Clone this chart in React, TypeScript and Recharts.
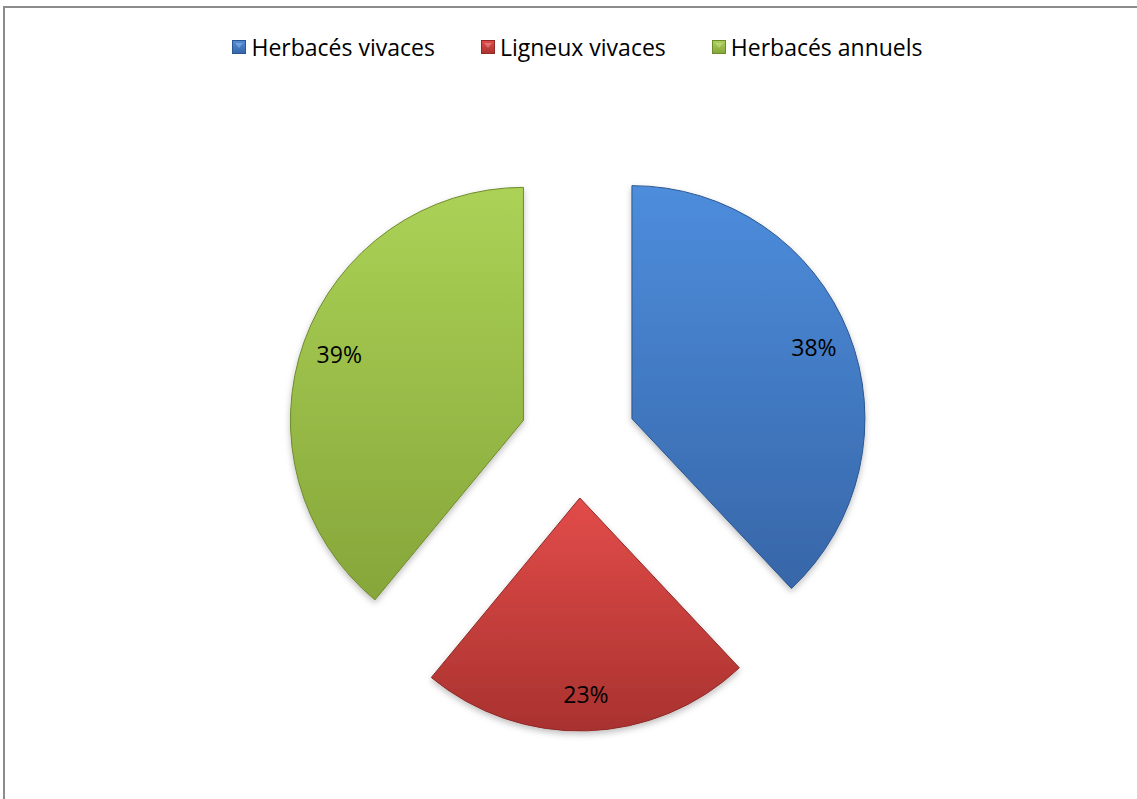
import { PieChart, Pie, Cell, Sector, Legend } from "recharts";

document.body.style.margin = "0";

const categories = ["Herbacés vivaces", "Ligneux vivaces", "Herbacés annuels"];
const shares = [38, 23, 39];

// top / bottom of the vertical gradient, and the edge colour
const gradTop = ["#4d8ddc", "#e24c49", "#abd256"];
const gradBottom = ["#3766a8", "#a9322f", "#86a63a"];
const edgeColors = ["#2c5690", "#8e2a28", "#6f8a2e"];

const data = categories.map((name, i) => ({ name, value: shares[i] }));

const RAD = Math.PI / 180;
const EXPLODE = 58;
const FONT = "'Open Sans', sans-serif";

function shift(midAngle: number, dist: number) {
  return {
    dx: dist * Math.cos(-midAngle * RAD),
    dy: dist * Math.sin(-midAngle * RAD),
  };
}

function ExplodedSector(props: any) {
  const { cx, cy, midAngle } = props;
  const { dx, dy } = shift(midAngle, EXPLODE);
  return (
    <g filter="url(#sliceShadow)">
      <Sector {...props} cx={cx + dx} cy={cy + dy} strokeWidth={1} />
    </g>
  );
}

function renderLabel(props: any) {
  const { cx, cy, midAngle, outerRadius, value } = props;
  const { dx, dy } = shift(midAngle, EXPLODE + outerRadius * 0.84);
  return (
    <text
      x={cx + dx}
      y={cy + dy}
      textAnchor="middle"
      dominantBaseline="central"
      fill="#000"
      fontSize={23}
      fontFamily={FONT}
    >
      {`${value}%`}
    </text>
  );
}

function LegendRow() {
  return (
    <div
      style={{
        display: "flex",
        justifyContent: "center",
        alignItems: "center",
        fontFamily: FONT,
        fontSize: 23,
        color: "#000",
      }}
    >
      {categories.map((name, i) => (
        <div
          key={name}
          style={{ display: "flex", alignItems: "center", marginLeft: i === 0 ? 0 : 46 }}
        >
          <svg width={14} height={14} style={{ marginRight: 5 }}>
            <rect x={0.5} y={0.5} width={13} height={13} fill={`url(#grad${i})`} stroke={edgeColors[i]} />
            <polygon points="3,3 11,3 7,8" fill="#ffffff" opacity={0.25} />
          </svg>
          <span>{name}</span>
        </div>
      ))}
    </div>
  );
}

export default function App() {
  return (
    <div style={{ position: "relative", width: 1137, height: 799, background: "#fff" }}>
      <PieChart width={1137} height={799}>
        <defs>
          {categories.map((_, i) => (
            <linearGradient key={i} id={`grad${i}`} x1="0" y1="0" x2="0" y2="1">
              <stop offset="0%" stopColor={gradTop[i]} />
              <stop offset="100%" stopColor={gradBottom[i]} />
            </linearGradient>
          ))}
          <filter id="sliceShadow" x="-20%" y="-20%" width="140%" height="140%">
            <feDropShadow dx="0" dy="3" stdDeviation="3" floodColor="#000" floodOpacity="0.25" />
          </filter>
        </defs>
        <Legend
          verticalAlign="top"
          content={() => <LegendRow />}
          wrapperStyle={{ top: 31, left: 9, width: 1137 }}
        />
        <Pie
          data={data}
          dataKey="value"
          nameKey="name"
          cx={573}
          cy={403}
          innerRadius={0}
          outerRadius={233}
          startAngle={90}
          endAngle={-270}
          label={renderLabel}
          labelLine={false}
          shape={ExplodedSector}
          activeShape={ExplodedSector}
          inactiveShape={ExplodedSector}
          isAnimationActive={false}
        >
          {data.map((_, i) => (
            <Cell key={i} fill={`url(#grad${i})`} stroke={edgeColors[i]} />
          ))}
        </Pie>
      </PieChart>
      <div
        style={{
          position: "absolute",
          left: 3,
          top: 6,
          width: 1134,
          height: 793,
          borderTop: "2px solid #8c8c8c",
          borderLeft: "2px solid #8c8c8c",
          boxSizing: "border-box",
          pointerEvents: "none",
        }}
      />
    </div>
  );
}
